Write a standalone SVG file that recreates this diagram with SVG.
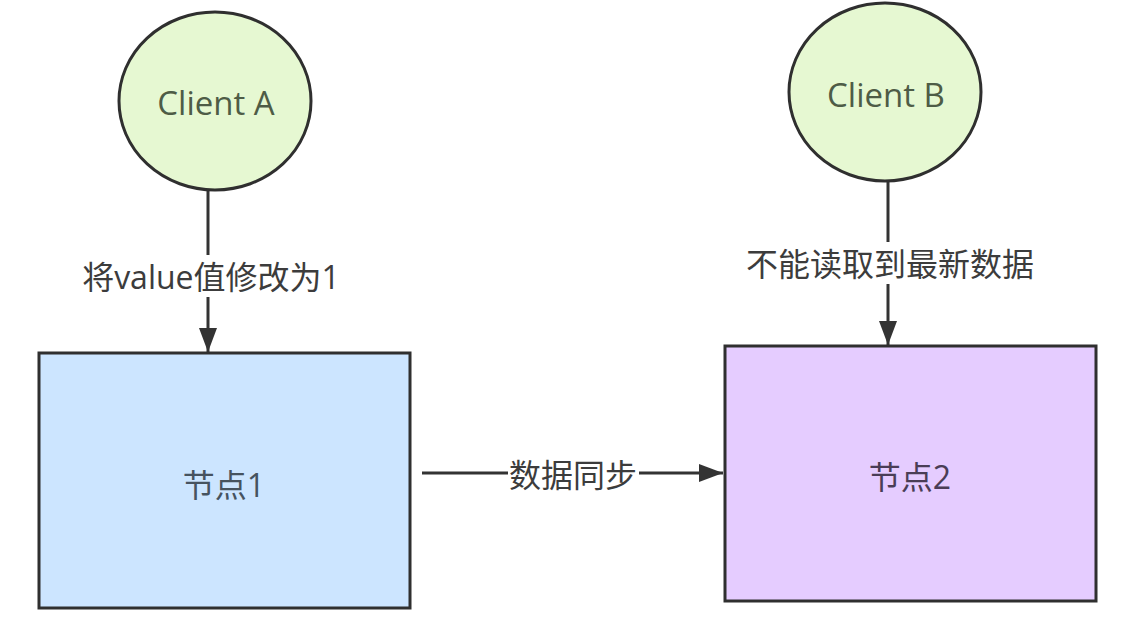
<svg xmlns="http://www.w3.org/2000/svg" width="1128" height="618" viewBox="0 0 1128 618">
  <style>
    text { font-family: "Open Sans", "Noto Sans CJK SC", sans-serif; text-anchor: middle; dominant-baseline: central; }
    .client { fill: #e6f8d2; stroke: #2f2f2f; stroke-width: 3; }
    .client-text { font-size: 33px; fill: #4e5c46; }
    .node1 { fill: #cce5ff; stroke: #2f2f2f; stroke-width: 3; }
    .node2 { fill: #e5ccff; stroke: #2f2f2f; stroke-width: 3; }
    .node1-text { font-size: 32px; fill: #46535f; }
    .node2-text { font-size: 32px; fill: #4a3d56; }
    .edge { stroke: #333333; stroke-width: 3; fill: none; }
    .label-bg { fill: #ffffff; }
    .label { font-size: 32px; fill: #3c3c3c; }
  </style>
  <defs>
    <marker id="arrow" markerUnits="userSpaceOnUse" markerWidth="26" markerHeight="20" refX="24" refY="9" orient="auto">
      <path d="M0,0 L24,9 L0,18 Z" fill="#333333"/>
    </marker>
  </defs>
  <rect width="1128" height="618" fill="#ffffff"/>

  <g id="connectors">
    <g id="edge-a">
      <line class="edge" x1="208" y1="190" x2="208" y2="352" marker-end="url(#arrow)"/>
      <rect class="label-bg" x="76" y="255" width="270" height="42"/>
      <text class="label" x="211" y="276">将value值修改为1</text>
    </g>
    <g id="edge-b">
      <line class="edge" x1="888" y1="182" x2="888" y2="345" marker-end="url(#arrow)"/>
      <rect class="label-bg" x="742" y="242" width="296" height="42"/>
      <text class="label" x="890" y="263">不能读取到最新数据</text>
    </g>
    <g id="edge-sync">
      <line class="edge" x1="422" y1="473" x2="723" y2="473" marker-end="url(#arrow)"/>
      <rect class="label-bg" x="508" y="452" width="131" height="42"/>
      <text class="label" x="573" y="474">数据同步</text>
    </g>
  </g>

  <g id="client-a">
    <ellipse class="client" cx="215" cy="101" rx="96" ry="89"/>
    <text class="client-text" x="216" y="102">Client A</text>
  </g>
  <g id="client-b">
    <ellipse class="client" cx="885" cy="92" rx="96" ry="89"/>
    <text class="client-text" x="886" y="94">Client B</text>
  </g>
  <g id="node1">
    <rect class="node1" x="39" y="353" width="371" height="255"/>
    <text class="node1-text" x="224" y="484">节点1</text>
  </g>
  <g id="node2">
    <rect class="node2" x="725" y="346" width="371" height="255"/>
    <text class="node2-text" x="910" y="476">节点2</text>
  </g>
</svg>
